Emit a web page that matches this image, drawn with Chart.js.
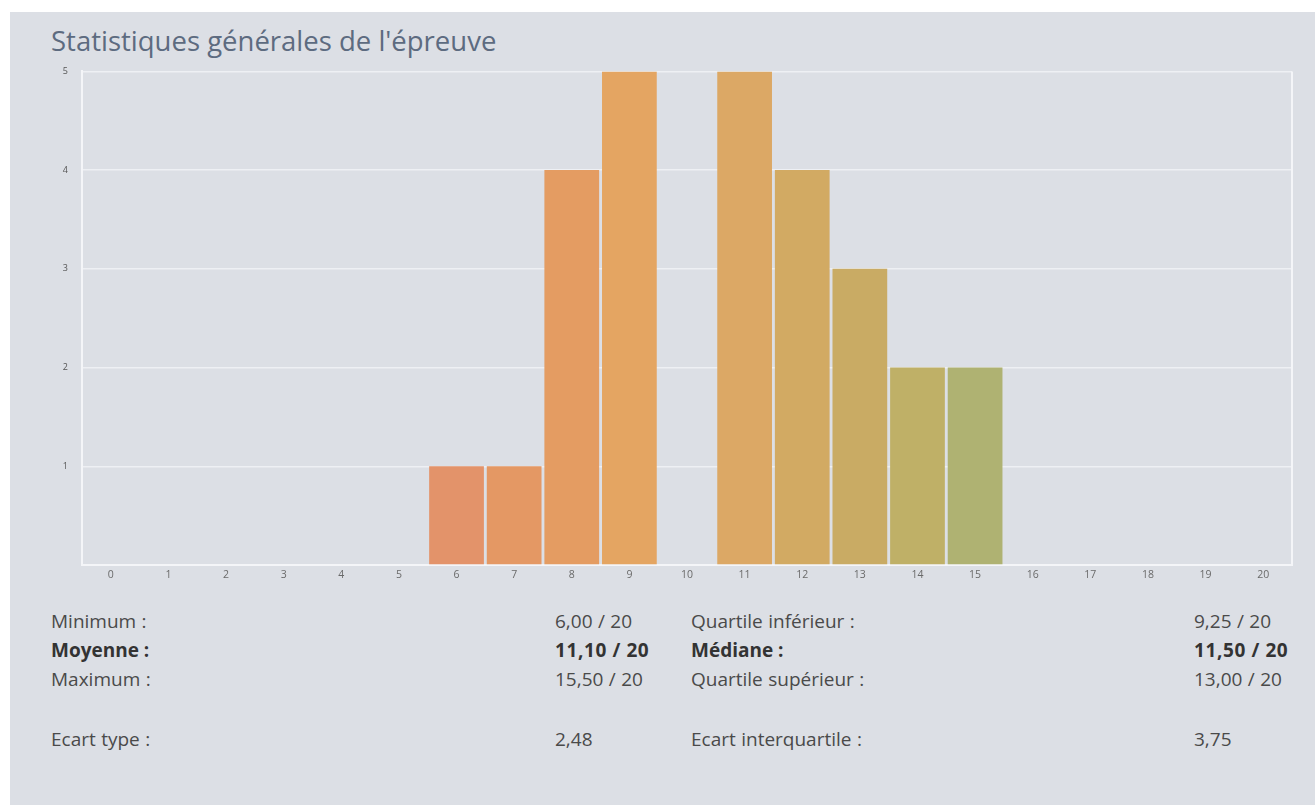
<!DOCTYPE html>
<html><head><meta charset="utf-8">
<script src="https://cdn.jsdelivr.net/npm/chart.js@4.4.1/dist/chart.umd.min.js"></script>
<style>
html,body{margin:0;padding:0;background:#fff;width:1315px;height:805px;overflow:hidden;font-family:"Open Sans",sans-serif;}
#panel{position:absolute;left:10px;top:12px;width:1305px;height:793px;background:#dcdfe5;}
#title{position:absolute;left:51px;top:22px;font-size:27.5px;line-height:37px;color:#5d6b80;white-space:nowrap;}
#wrap{position:absolute;left:40px;top:52px;width:1262px;height:533px;}
.t{position:absolute;font-size:19px;line-height:25px;color:#4a4a4a;white-space:nowrap;word-spacing:0.5px;}
.b{font-weight:bold;color:#333;word-spacing:0;}
.bn{letter-spacing:0.6px;}
</style></head><body>
<div id="panel"></div>
<div id="title">Statistiques générales de l'épreuve</div>
<div id="wrap"><canvas id="c" width="1262" height="533"></canvas></div>
<div id="stats"></div>
<script>
const categories = ["0","1","2","3","4","5","6","7","8","9","10","11","12","13","14","15","16","17","18","19","20"];
const counts = [0,0,0,0,0,0,1,1,4,5,0,5,4,3,2,2,0,0,0,0,0];
const barColors = ["#e3946a","#e3946a","#e3946a","#e3946a","#e3946a","#e3946a","#e3936a","#e49864","#e49c62","#e4a562","#dca864","#dca865","#d2aa63","#c9ab64","#bfb067","#afb272","#afb272","#afb272","#afb272","#afb272","#afb272"];
const yTicks = [1,2,3,4,5];
const statsLeft = [["Minimum :","6,00 / 20",false],["Moyenne :","11,10 / 20",true],["Maximum :","15,50 / 20",false],["Ecart type :","2,48",false]];
const statsRight = [["Quartile inférieur :","9,25 / 20",false],["Médiane :","11,50 / 20",true],["Quartile supérieur :","13,00 / 20",false],["Ecart interquartile :","3,75",false]];

const rowsY=[609,638,667,727];
let html="";
statsLeft.forEach((r,i)=>{
  html+=`<div class="t${r[2]?' b':''}" style="left:51px;top:${rowsY[i]}px">${r[0]}</div>`;
  html+=`<div class="t${r[2]?' b bn':''}" style="left:555px;top:${rowsY[i]}px">${r[1]}</div>`;
});
statsRight.forEach((r,i)=>{
  html+=`<div class="t${r[2]?' b':''}" style="left:691px;top:${rowsY[i]}px">${r[0]}</div>`;
  html+=`<div class="t${r[2]?' b bn':''}" style="left:1194px;top:${rowsY[i]}px">${r[1]}</div>`;
});
document.getElementById("stats").innerHTML=html;

const rightBorder={id:"rb",afterDraw(ch){const a=ch.chartArea,c=ch.ctx;c.save();c.strokeStyle="#f4f5f8";c.lineWidth=2;c.beginPath();c.moveTo(a.right,a.top);c.lineTo(a.right,a.bottom);c.stroke();c.restore();}};

new Chart(document.getElementById("c"),{
  type:"bar",
  data:{labels:categories,datasets:[{data:counts,backgroundColor:barColors,borderWidth:0,barPercentage:0.95,categoryPercentage:1}]},
  options:{
    responsive:false,animation:false,
    layout:{padding:{top:5,right:10,left:0,bottom:0}},
    plugins:{legend:{display:false},tooltip:{enabled:false}},
    scales:{
      x:{grid:{display:false,drawTicks:false},border:{color:"#f4f5f8",width:2},
         ticks:{color:"#6a6a6a",font:{family:"Open Sans",size:10.5},padding:4},
         afterFit(s){s.height=20;}},
      y:{min:0,max:5,grid:{color:"#eef0f4",lineWidth:1.5,drawTicks:false},border:{color:"#f4f5f8",width:2},
         ticks:{stepSize:1,color:"#555",font:{family:"Open Sans",size:9},padding:14,
           callback:(v)=>yTicks.includes(v)?String(v):""},
         afterFit(s){s.width=42;}}
    }
  },
  plugins:[rightBorder]
});
</script>
</body></html>
